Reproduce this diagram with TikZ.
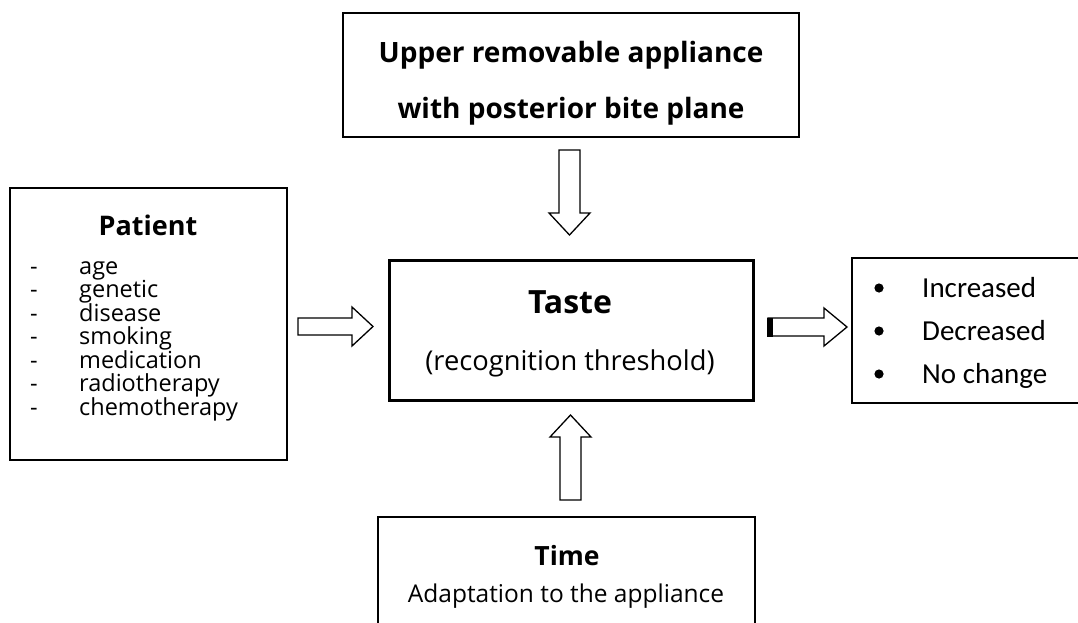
\documentclass[tikz,border=0pt]{standalone}
\usepackage{fontspec}
\newfontfamily\thf{Open Sans}
\newfontfamily\clf{Carlito}
\newcommand{\fs}[1]{\fontsize{#1}{#1}\selectfont}
\begin{document}
\begin{tikzpicture}[x=1pt,y=-1pt,
  box/.style={draw, line width=1.8pt, inner sep=0pt, rectangle},
  thickbox/.style={draw, line width=3pt, inner sep=0pt, rectangle},
  thinbox/.style={draw, line width=1.3pt, inner sep=0pt, rectangle},
  txt/.style={inner sep=0pt, anchor=base, font=\thf},
  item/.style={inner sep=0pt, anchor=base west, font=\thf\fs{23.5}},
  outitem/.style={inner sep=0pt, anchor=base west, font=\clf\fs{29}},
  blockarrow/.style={draw, line width=1.3pt, fill=white, line join=miter}
]
\useasboundingbox (0,0) rectangle (1078,623);
\clip (0,0) rectangle (1078,623);

% boxes
\node[box, minimum width=456pt, minimum height=124pt] (top) at (571,75) {};
\node[box, minimum width=277pt, minimum height=272pt] (patient) at (148.5,324) {};
\node[thickbox, minimum width=364pt, minimum height=140pt] (taste) at (571,330) {};
\node[thinbox, minimum width=240pt, minimum height=145pt] (out) at (972,330.5) {};
\node[box, minimum width=377pt, minimum height=130pt] (time) at (566.5,582) {};

% top text
\node[txt, font=\thf\bfseries\fs{28}] (t1) at (571,63) {Upper removable appliance};
\node[txt, font=\thf\bfseries\fs{28}] (t2) at (571,118) {with posterior bite plane};

% patient
\node[txt, font=\thf\bfseries\fs{27}] (ptitle) at (148,235) {Patient};
\foreach \w [count=\i from 0] in {age,genetic,disease,smoking,medication,radiotherapy,chemotherapy}{
  \node[item] (d\i) at (30,274+23.5*\i) {-};
  \node[item] (p\i) at (79,274+23.5*\i) {\w};
}

% taste
\node[txt, font=\thf\bfseries\fs{32}] (tt) at (570,313) {Taste};
\node[txt, font=\thf\fs{27.3}] (ts) at (570,370) {(recognition threshold)};

% time
\node[txt, font=\thf\bfseries\fs{26.5}] (tm) at (567,565) {Time};
\node[txt, font=\thf\fs{24.5}] (ta) at (566,602) {Adaptation to the appliance};

% outcomes
\foreach \w [count=\i from 0] in {Increased,Decreased,No change}{
  \fill (879,288+43*\i) circle (4.6pt);
  \node[outitem] (o\i) at (922,297+43*\i) {\w};
}

% arrows
\draw[blockarrow] (559,150) -- (580,150) -- (580,213) -- (590,213) -- (569.5,235) -- (549,213) -- (559,213) -- cycle;
\draw[blockarrow] (560,500) -- (581,500) -- (581,437) -- (591,437) -- (570.5,415) -- (550,437) -- (560,437) -- cycle;
\draw[blockarrow] (298,318) -- (352,318) -- (352,307) -- (373,326.5) -- (352,346) -- (352,335) -- (298,335) -- cycle;
\draw[blockarrow] (768,318) -- (824,318) -- (824,308) -- (847,327) -- (824,346) -- (824,336) -- (768,336) -- cycle;
\fill (767,317.5) rectangle (773,336.5);
\end{tikzpicture}
\end{document}
